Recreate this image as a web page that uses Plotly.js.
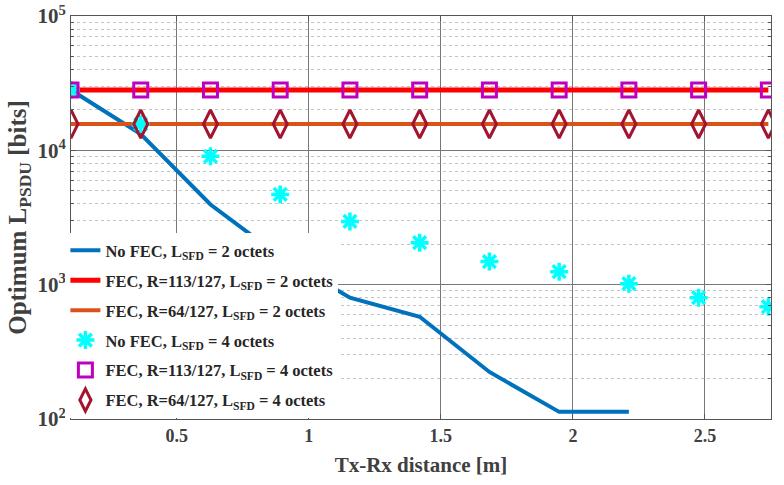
<!DOCTYPE html>
<html><head><meta charset="utf-8">
<script src="https://cdn.plot.ly/plotly-3.0.1.min.js"></script>
<style>html,body{margin:0;padding:0;background:#fff}#chart{width:784px;height:485px}</style>
</head><body><div id="chart"></div>
<script>
const distance = [0.1, 0.364, 0.628, 0.892, 1.156, 1.42, 1.684, 1.948, 2.212, 2.476, 2.74];
const noFec2 = [28100, 13200, 3950, 1620, 800, 577, 224, 113, 113];
const fec113_2 = [28100, 28100, 28100, 28100, 28100, 28100, 28100, 28100, 28100, 28100, 28100];
const fec64_2 = [15700, 15700, 15700, 15700, 15700, 15700, 15700, 15700, 15700, 15700, 15700];
const noFec4 = [28100, 15700, 9020, 4700, 2955, 2055, 1485, 1250, 1017, 800, 685];
const fec113_4 = [28100, 28100, 28100, 28100, 28100, 28100, 28100, 28100, 28100, 28100, 28100];
const fec64_4 = [15700, 15700, 15700, 15700, 15700, 15700, 15700, 15700, 15700, 15700, 15700];
const names = [
  'No FEC, L<sub>SFD</sub> = 2 octets',
  'FEC, R=113/127, L<sub>SFD</sub> = 2 octets',
  'FEC, R=64/127, L<sub>SFD</sub> = 2 octets',
  'No FEC, L<sub>SFD</sub> = 4 octets',
  'FEC, R=113/127, L<sub>SFD</sub> = 4 octets',
  'FEC, R=64/127, L<sub>SFD</sub> = 4 octets'
];
const xTicks = [0.5, 1, 1.5, 2, 2.5];
const yTicks = [100, 1000, 10000, 100000];
const yTickText = ['10<sup>2</sup>', '10<sup>3</sup>', '10<sup>4</sup>', '10<sup>5</sup>'];

const traces = [
  {x: distance.slice(0, noFec2.length), y: noFec2, name: names[0], legendgroup: 'g1', mode: 'lines', line: {color: '#0072BD', width: 4}},
  {x: distance, y: fec113_2, name: names[1], legendgroup: 'g2', mode: 'lines', line: {color: '#FF0000', width: 5}},
  {x: distance, y: fec64_2, name: names[2], legendgroup: 'g3', mode: 'lines', line: {color: '#D95319', width: 4}},
  {x: distance, y: noFec4, name: names[3], legendgroup: 'g4', mode: 'markers', marker: {symbol: 'asterisk-open', size: 15, color: '#00FFFF', line: {color: '#00FFFF', width: 3.5}}},
  {x: distance, y: fec113_4, name: names[4], legendgroup: 'g5', mode: 'markers', marker: {symbol: 'square-open', size: 14, color: '#C000C0', line: {color: '#C000C0', width: 3}}},
  {x: distance, y: fec64_4, name: names[5], legendgroup: 'g6', mode: 'markers', marker: {symbol: 'diamond-tall-open', size: 20, color: '#A2142F', line: {color: '#A2142F', width: 3}}}
];

const fontFam = '"Liberation Serif", "Times New Roman", serif';
const layout = {
  width: 784, height: 485,
  margin: {l: 71, r: 13, t: 16, b: 66},
  paper_bgcolor: '#fff', plot_bgcolor: '#fff',
  font: {family: fontFam, color: '#404040', size: 17, weight: 'bold'},
  showlegend: true,
  legend: {x: -0.008, y: 0.4615, xanchor: 'left', yanchor: 'top', bgcolor: '#fff', borderwidth: 0,
           font: {family: fontFam, size: 16.5, color: '#262626', weight: 'bold'}, tracegroupgap: 5.5, itemwidth: 30},
  xaxis: {
    range: [0.1, 2.75], tickmode: 'array', tickvals: xTicks, ticktext: xTicks.map(String),
    showgrid: true, gridcolor: '#777', gridwidth: 1, zeroline: false,
    showline: true, linecolor: '#555', linewidth: 1, mirror: 'allticks',
    ticks: 'inside', ticklen: 5, tickcolor: '#555',
    tickfont: {family: fontFam, size: 18, color: '#404040', weight: 'bold'},
    title: {text: 'Tx-Rx distance [m]', font: {family: fontFam, size: 21, color: '#404040', weight: 'bold'}, standoff: 12}
  },
  yaxis: {
    type: 'log', range: [2, 5], tickmode: 'array', tickvals: yTicks, ticktext: yTickText,
    showgrid: true, gridcolor: '#777', gridwidth: 1, zeroline: false,
    showline: true, linecolor: '#555', linewidth: 1, mirror: 'allticks',
    ticks: 'inside', ticklen: 5, tickcolor: '#555',
    minor: {dtick: 'D1', showgrid: true, griddash: 'dot', gridcolor: '#c4c4c4', gridwidth: 1, ticks: 'inside', ticklen: 3, tickcolor: '#555'},
    tickfont: {family: fontFam, size: 21, color: '#404040', weight: 'bold'},
    title: {text: 'Optimum L<sub>PSDU</sub> [bits]', font: {family: fontFam, size: 25, color: '#404040', weight: 'bold'}, standoff: 3}
  }
};
Plotly.newPlot('chart', traces, layout, {staticPlot: true, displayModeBar: false});
</script></body></html>
